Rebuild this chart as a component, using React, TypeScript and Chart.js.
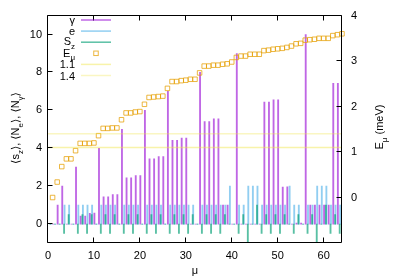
import React, { useEffect, useRef } from "react";
import { Chart, registerables } from "chart.js";

Chart.register(...registerables);

// eigenstate index μ
const MU = [
  1, 2, 3, 4, 5, 6, 7, 8, 9, 10, 11, 12, 13, 14, 15, 16, 17, 18, 19, 20, 21, 22,
  23, 24, 25, 26, 27, 28, 29, 30, 31, 32, 33, 34, 35, 36, 37, 38, 39, 40, 41, 42,
  43, 44, 45, 46, 47, 48, 49, 50, 51, 52, 53, 54, 55, 56, 57, 58, 59, 60, 61, 62,
  63, 64,
];

// ⟨N_γ⟩
const N_GAMMA = [
  0, 1, 2, 0, 0, 3, 0.42, 0.42, 0.56, 0.58,
  4, 1.44, 1.44, 1.55, 1.55, 5, 2.44, 2.44, 2.56, 2.56,
  6, 3.44, 3.44, 3.56, 3.56, 7, 4.42, 4.42, 4.54, 4.54,
  0, 0, 8, 5.41, 5.41, 5.55, 5.55, 1, 1, 0,
  9, 0, 0, 0, 0, 0, 6.43, 6.43, 6.55, 6.55,
  1.95, 1.97, 0, 0.05, 0.05, 10, 1, 1, 1, 1,
  1, 7.42, 7.42, 7.55,
];

// ⟨N_e⟩
const N_E = [
  0, 0, 0, 1, 1, 0, 1, 1, 1, 1,
  0, 1, 1, 1, 1, 0, 1, 1, 1, 1,
  0, 1, 1, 1, 1, 0, 1, 1, 1, 1,
  1, 1, 0, 1, 1, 1, 1, 1, 1, 2,
  0, 1, 1, 2, 2, 2, 1, 1, 1, 1,
  1, 1, 2, 1, 1, 0, 1, 1, 2, 2,
  2, 1, 1, 1,
];

// ⟨S_z⟩
const S_Z = [
  0, 0, 0, -0.5, 0.5, 0, -0.5, 0.5, -0.5, 0.5,
  0, -0.5, 0.5, -0.5, 0.5, 0, -0.5, 0.5, -0.5, 0.5,
  0, -0.5, 0.5, -0.5, 0.5, 0, -0.5, 0.5, -0.5, 0.5,
  -0.5, 0.5, 0, -0.5, 0.5, -0.5, 0.5, -0.5, 0.5, 0,
  0, -0.5, 0.5, -1, 0, 1, -0.5, 0.5, -0.5, 0.5,
  -0.5, 0.5, 0, -0.5, 0.5, 0, -0.5, 0.5, -1, 0,
  1, -0.5, 0.5, -0.5,
];

// E_μ (meV)
const E_MU = [
  0.0, 0.34, 0.68, 0.85, 0.85, 1.03, 1.19, 1.19, 1.19, 1.2,
  1.36, 1.52, 1.52, 1.53, 1.53, 1.71, 1.86, 1.86, 1.88, 1.89,
  2.05, 2.2, 2.21, 2.22, 2.23, 2.4, 2.55, 2.55, 2.57, 2.58,
  2.6, 2.6, 2.74, 2.89, 2.89, 2.91, 2.91, 2.93, 2.94, 2.98,
  3.08, 3.11, 3.11, 3.15, 3.15, 3.15, 3.23, 3.24, 3.26, 3.27,
  3.28, 3.3, 3.33, 3.38, 3.39, 3.46, 3.47, 3.48, 3.5, 3.5,
  3.5, 3.56, 3.58, 3.6,
];

const REF_LEVELS = [1.1, 1.4];
const REF_LABELS = ["1.1", "1.4"];

const X_TICKS = [0, 10, 20, 30, 40, 50, 60];
const Y_TICKS = [0, 2, 4, 6, 8, 10];
const Y2_TICKS = [0, 1, 2, 3, 4];

const X_MIN = 0;
const X_MAX = 64;
const Y_MIN = -1;
const Y_MAX = 11;
const Y2_MIN = -1;
const Y2_MAX = 4;

const C_GAMMA = "rgba(148,0,211,0.6)";
const C_E = "rgba(86,180,233,0.65)";
const C_SZ = "rgba(0,158,115,0.65)";
const C_EMU = "rgba(230,159,0,0.75)";
const C_L1 = "rgba(240,228,66,0.45)";
const C_L2 = "rgba(240,228,66,0.32)";

const FONT = '"Liberation Sans", Arial, "DejaVu Sans", sans-serif';
const FS = 11;

type Seg = { t: string; sub?: boolean };

function segFont(sub?: boolean) {
  return `${sub ? 8 : FS}px ${FONT}`;
}

function richWidth(ctx: CanvasRenderingContext2D, segs: Seg[]) {
  let w = 0;
  for (const s of segs) {
    ctx.font = segFont(s.sub);
    w += ctx.measureText(s.t).width;
  }
  return w;
}

function drawRich(
  ctx: CanvasRenderingContext2D,
  segs: Seg[],
  x: number,
  y: number,
  align: "left" | "right" | "center"
) {
  const w = richWidth(ctx, segs);
  let cx = align === "right" ? x - w : align === "center" ? x - w / 2 : x;
  ctx.textAlign = "left";
  ctx.textBaseline = "alphabetic";
  for (const s of segs) {
    ctx.font = segFont(s.sub);
    ctx.fillText(s.t, cx, s.sub ? y + 3.5 : y);
    cx += ctx.measureText(s.t).width;
  }
}

const overlay = {
  id: "gnuplotOverlay",
  afterDraw(chart: any) {
    const ctx: CanvasRenderingContext2D = chart.ctx;
    const { left, right, top, bottom } = chart.chartArea;
    const xs = chart.scales.x;
    const ys = chart.scales.y;
    const y2s = chart.scales.y2;
    ctx.save();
    ctx.strokeStyle = "#000";
    ctx.lineWidth = 1;
    const L = Math.round(left) - 0.5;
    const R = Math.round(right) - 0.5;
    const T = Math.round(top) - 0.5;
    const B = Math.round(bottom) - 0.5;
    ctx.beginPath();
    ctx.rect(L, T, R - L, B - T);
    ctx.stroke();
    const tl = 5;
    ctx.beginPath();
    for (const v of X_TICKS) {
      const px = Math.round(xs.getPixelForValue(v)) - 0.5;
      ctx.moveTo(px, B);
      ctx.lineTo(px, B - tl);
      ctx.moveTo(px, T);
      ctx.lineTo(px, T + tl);
    }
    for (const v of Y_TICKS) {
      const py = Math.round(ys.getPixelForValue(v)) - 0.5;
      ctx.moveTo(L, py);
      ctx.lineTo(L + tl, py);
    }
    for (const v of Y2_TICKS) {
      const py = Math.round(y2s.getPixelForValue(v)) - 0.5;
      ctx.moveTo(R, py);
      ctx.lineTo(R - tl, py);
    }
    ctx.stroke();

    // key
    ctx.fillStyle = "#000";
    const rows: { segs: Seg[]; kind: string; color: string }[] = [
      { segs: [{ t: "γ" }], kind: "line", color: C_GAMMA },
      { segs: [{ t: "e" }], kind: "line", color: C_E },
      { segs: [{ t: "S" }, { t: "z", sub: true }], kind: "line", color: C_SZ },
      { segs: [{ t: "E" }, { t: "μ", sub: true }], kind: "point", color: C_EMU },
      { segs: [{ t: REF_LABELS[0] }], kind: "line", color: C_L1 },
      { segs: [{ t: REF_LABELS[1] }], kind: "line", color: C_L2 },
    ];
    rows.forEach((r, i) => {
      const yy = 20 + i * 11.1;
      const hasSub = r.segs.some((s) => s.sub);
      ctx.fillStyle = "#000";
      drawRich(ctx, r.segs, 75, yy + (hasSub ? 3.2 : 4), "right");
      if (r.kind === "line") {
        ctx.strokeStyle = r.color;
        ctx.lineWidth = 1.5;
        ctx.beginPath();
        ctx.moveTo(81, yy);
        ctx.lineTo(111, yy);
        ctx.stroke();
      } else {
        ctx.strokeStyle = r.color;
        ctx.lineWidth = 1;
        ctx.strokeRect(96 - 2.25, yy - 2.25, 4.5, 4.5);
      }
    });

    // axis titles
    ctx.fillStyle = "#000";
    ctx.save();
    ctx.translate(19, 128);
    ctx.rotate(-Math.PI / 2);
    drawRich(
      ctx,
      [
        { t: "⟨s" },
        { t: "z", sub: true },
        { t: "⟩, ⟨N" },
        { t: "e", sub: true },
        { t: "⟩, ⟨N" },
        { t: "γ", sub: true },
        { t: "⟩" },
      ],
      0,
      0,
      "center"
    );
    ctx.restore();

    ctx.save();
    ctx.translate(383, 127);
    ctx.rotate(-Math.PI / 2);
    drawRich(ctx, [{ t: "E" }, { t: "μ", sub: true }, { t: " (meV)" }], 0, 0, "center");
    ctx.restore();

    drawRich(ctx, [{ t: "μ" }], (left + right) / 2, 273.5, "center");
    ctx.restore();
  },
};

export default function App() {
  const ref = useRef<HTMLCanvasElement>(null);
  useEffect(() => {
    const canvas = ref.current;
    if (!canvas) return;
    const tickFont = { family: FONT, size: FS };
    const impulse = (vals: number[], shift: number, color: string, label: string, order: number) => ({
      type: "bar" as const,
      label,
      data: MU.map((m, i) => ({ x: m + shift, y: vals[i] })),
      backgroundColor: color,
      borderWidth: 0,
      barThickness: 1.2,
      grouped: false,
      xAxisID: "x",
      yAxisID: "y",
      order,
    });
    const chart = new Chart(canvas, {
      type: "bar",
      data: {
        datasets: [
          impulse(N_GAMMA, 0.1, C_GAMMA, "γ", 6),
          impulse(N_E, -0.4, C_E, "e", 5),
          impulse(S_Z, -0.5, C_SZ, "Sz", 4),
          {
            type: "line",
            label: "Eμ",
            data: MU.map((m, i) => ({ x: m, y: E_MU[i] })),
            showLine: false,
            pointStyle: "rect",
            pointRadius: 3.2,
            pointBorderWidth: 1,
            pointBorderColor: C_EMU,
            pointBackgroundColor: "rgba(0,0,0,0)",
            borderColor: C_EMU,
            xAxisID: "x",
            yAxisID: "y2",
            clip: 6,
            order: 3,
          },
          ...REF_LEVELS.map((lv, k) => ({
            type: "line" as const,
            label: REF_LABELS[k],
            data: [
              { x: X_MIN, y: lv },
              { x: X_MAX, y: lv },
            ],
            borderColor: k === 0 ? C_L1 : C_L2,
            borderWidth: 1.5,
            pointRadius: 0,
            xAxisID: "x",
            yAxisID: "y2",
            order: 2 - k,
          })),
        ] as any,
      },
      options: {
        responsive: false,
        animation: false,
        devicePixelRatio: 1,
        events: [],
        layout: { padding: { top: 11, left: 0, right: 0, bottom: 0 } },
        plugins: {
          legend: { display: false },
          tooltip: { enabled: false },
          title: { display: false },
        },
        scales: {
          x: {
            type: "linear",
            min: X_MIN,
            max: X_MAX,
            offset: false,
            grid: { display: false, drawTicks: false },
            border: { display: false },
            ticks: { font: tickFont, color: "#000", padding: 6, maxRotation: 0, autoSkip: false },
            afterBuildTicks: (s: any) => {
              s.ticks = X_TICKS.map((v) => ({ value: v }));
            },
            afterFit: (s: any) => {
              s.height = 36;
            },
          },
          y: {
            type: "linear",
            position: "left",
            min: Y_MIN,
            max: Y_MAX,
            grid: { display: false, drawTicks: false },
            border: { display: false },
            ticks: { font: tickFont, color: "#000", padding: 6 },
            afterBuildTicks: (s: any) => {
              s.ticks = Y_TICKS.map((v) => ({ value: v }));
            },
            afterFit: (s: any) => {
              s.width = 48;
            },
          },
          y2: {
            type: "linear",
            position: "right",
            min: Y2_MIN,
            max: Y2_MAX,
            grid: { display: false, drawTicks: false },
            border: { display: false },
            ticks: { font: tickFont, color: "#000", padding: 9 },
            afterBuildTicks: (s: any) => {
              s.ticks = Y2_TICKS.map((v) => ({ value: v }));
            },
            afterFit: (s: any) => {
              s.width = 57;
            },
          },
        },
      } as any,
      plugins: [overlay],
    });
    return () => chart.destroy();
  }, []);
  return (
    <div style={{ position: "absolute", left: 0, top: 0, width: 399, height: 279, background: "#fff" }}>
      <canvas ref={ref} width={399} height={279} style={{ display: "block", width: 399, height: 279 }} />
    </div>
  );
}
